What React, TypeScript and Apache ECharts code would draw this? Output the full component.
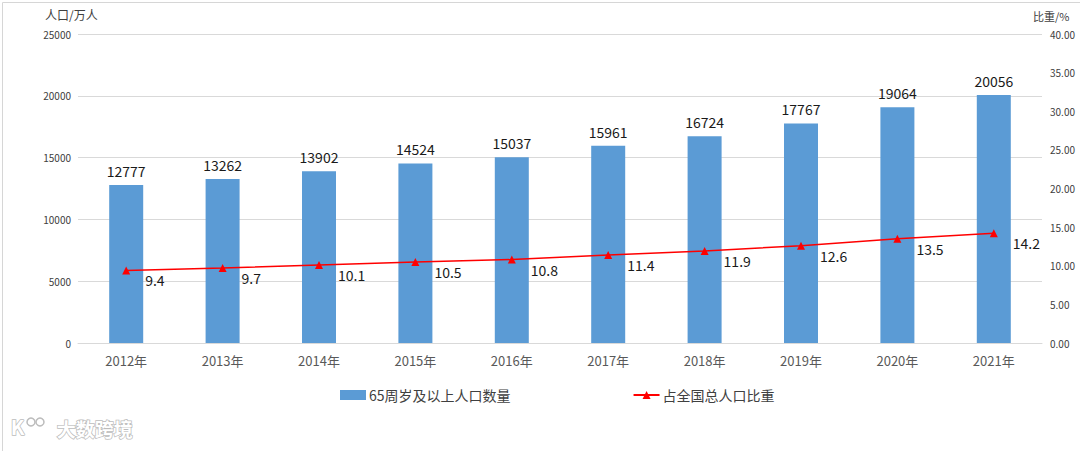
import React, { useEffect, useRef } from "react";
import * as echarts from "echarts";

const years = ["2012年", "2013年", "2014年", "2015年", "2016年", "2017年", "2018年", "2019年", "2020年", "2021年"];
const population = [12777, 13262, 13902, 14524, 15037, 15961, 16724, 17767, 19064, 20056];
const share = [9.4, 9.7, 10.1, 10.5, 10.8, 11.4, 11.9, 12.6, 13.5, 14.2];
const barName = "65周岁及以上人口数量";
const lineName = "占全国总人口比重";

const FONT = "'Noto Sans CJK SC', 'Noto Sans', sans-serif";

export default function App() {
  const ref = useRef<HTMLDivElement>(null);
  useEffect(() => {
    if (!ref.current) return;
    const chart = echarts.init(ref.current, null, { renderer: "svg" });
    chart.setOption({
      animation: false,
      backgroundColor: "#ffffff",
      textStyle: { fontFamily: FONT },
      grid: { left: 78, right: 38, top: 34, bottom: 108, containLabel: false },
      legend: {
        bottom: 44,
        left: 335,
        itemGap: 122,
        itemWidth: 26,
        itemHeight: 10,
        textStyle: { fontSize: 14, color: "#404040", fontFamily: FONT, padding: [0, 0, 0, -2] },
        data: [
          { name: barName, icon: "rect" },
          { name: lineName },
        ],
      },
      xAxis: {
        type: "category",
        data: years,
        axisLine: { lineStyle: { color: "#d9d9d9" } },
        axisTick: { show: false },
        axisLabel: { color: "#595959", fontSize: 13, margin: 11 },
      },
      yAxis: [
        {
          type: "value",
          min: 0,
          max: 25000,
          interval: 5000,
          axisLine: { show: false },
          axisTick: { show: false },
          splitLine: { lineStyle: { color: "#d9d9d9" } },
          axisLabel: { color: "#404040", fontSize: 10, margin: 7, formatter: (v: number) => String(v) },
        },
        {
          type: "value",
          min: 0,
          max: 40,
          interval: 5,
          axisLine: { show: false },
          axisTick: { show: false },
          splitLine: { show: false },
          axisLabel: {
            color: "#404040",
            fontSize: 10,
            margin: 8,
            formatter: (v: number) => v.toFixed(2),
          },
        },
      ],
      series: [
        {
          name: barName,
          type: "bar",
          data: population,
          barWidth: 34,
          itemStyle: { color: "#5B9BD5" },
          label: { show: true, position: "top", color: "#1a1a1a", fontSize: 14, distance: 7 },
        },
        {
          name: lineName,
          type: "line",
          yAxisIndex: 1,
          data: share,
          symbol: "triangle",
          symbolSize: 8,
          lineStyle: { color: "#FF0000", width: 1.5 },
          itemStyle: { color: "#FF0000" },
          label: {
            show: true,
            position: "right",
            offset: [10, 10],
            color: "#1a1a1a",
            fontSize: 14,
            formatter: (p: any) => String(p.value),
          },
        },
      ],
      graphic: [
        {
          type: "rect",
          left: 0,
          top: 0,
          shape: { width: 1079, height: 450 },
          style: { fill: "none", stroke: "#d6d6d6", lineWidth: 1 },
          silent: true,
        },
        {
          type: "text",
          left: 45,
          top: 8,
          style: { text: "人口/万人", fontSize: 12, fill: "#404040", fontFamily: FONT },
        },
        {
          type: "text",
          left: 1033,
          top: 10,
          style: { text: "比重/%", fontSize: 11, fill: "#404040", fontFamily: FONT },
        },
        {
          type: "text",
          left: 10,
          top: 416,
          style: { text: "K", fontSize: 20, fill: "#ffffff", stroke: "#bcbcbc", lineWidth: 1.5, fontFamily: FONT, fontWeight: "bold" },
        },
        {
          type: "circle",
          shape: { cx: 31, cy: 422, r: 4 },
          style: { fill: "#ffffff", stroke: "#bcbcbc", lineWidth: 1.5 },
        },
        {
          type: "circle",
          shape: { cx: 40, cy: 422, r: 4 },
          style: { fill: "#ffffff", stroke: "#bcbcbc", lineWidth: 1.5 },
        },
        {
          type: "text",
          left: 56,
          top: 418,
          style: { text: "大数跨境", fontSize: 19, fill: "#ffffff", stroke: "#bcbcbc", lineWidth: 1.5, fontFamily: FONT, fontWeight: "bold" },
        },
      ],
    });
    return () => chart.dispose();
  }, []);
  return (
    <div
      ref={ref}
      style={{ position: "fixed", left: 0, top: 0, width: 1080, height: 451 }}
    />
  );
}
